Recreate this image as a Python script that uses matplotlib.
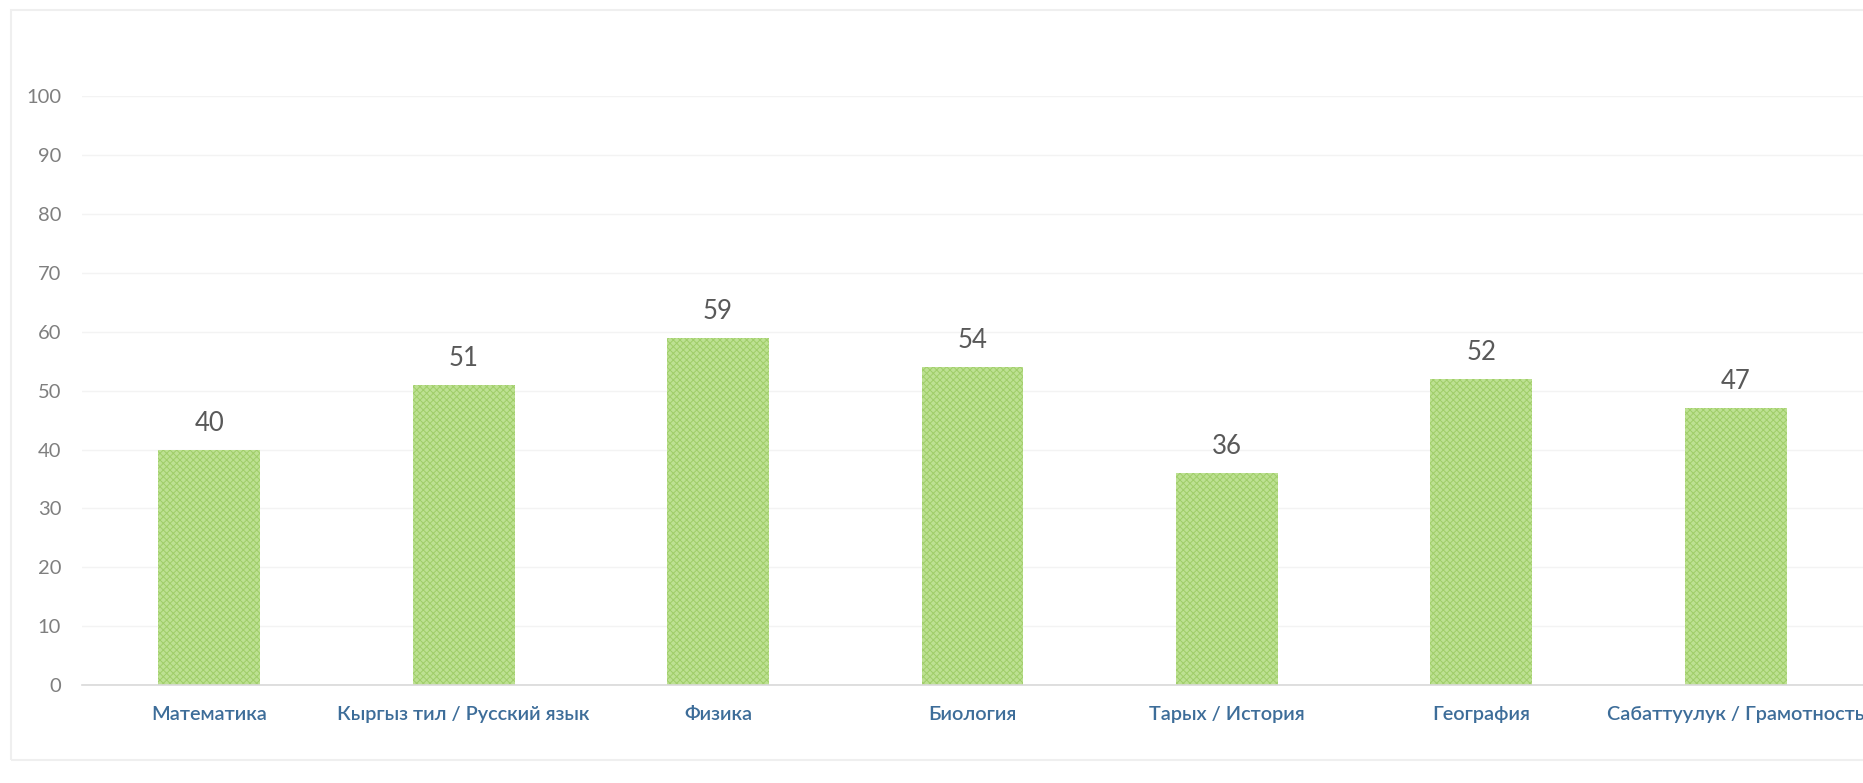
import matplotlib
matplotlib.use('Agg')
import matplotlib.pyplot as plt
import numpy as np
from matplotlib.patches import Rectangle

plt.rcParams['font.family'] = ['Lato', 'DejaVu Sans']
plt.rcParams['hatch.linewidth'] = 0.7

subjects = ['Математика', 'Кыргыз тил / Русский язык', 'Физика', 'Биология',
            'Тарых / История', 'География', 'Сабаттуулук / Грамотность']
scores = [40, 51, 59, 54, 36, 52, 47]
yticks = [0, 10, 20, 30, 40, 50, 60, 70, 80, 90, 100]

fig = plt.figure(figsize=(18.63, 7.83), dpi=100)
ax = fig.add_axes([0.044, 0.125, 0.956, 0.752])

# faint outer frame from the scanned page
fig.patches.append(Rectangle((0.006, 0.03), 1.2, 0.957, transform=fig.transFigure,
                             fill=False, edgecolor='#efefef', linewidth=1.5))

ind = np.arange(len(subjects))
bars = ax.bar(ind, scores, width=0.4, color='#bde192', edgecolor='#9fcd68',
              hatch='xxxxx', linewidth=0, zorder=2)

for x, v in zip(ind, scores):
    ax.annotate(str(v), (x, v), xytext=(0, 10), textcoords='offset points',
                ha='center', va='bottom', fontsize=18.5, color='#595959')

ax.set_xlim(-0.5, len(subjects) - 0.5)
ax.set_ylim(0, 100)
ax.set_yticks(yticks)
ax.set_xticks(ind)
ax.set_xticklabels(subjects, fontsize=14.3, color='#3d6d99', fontweight='semibold')
ax.tick_params(axis='y', length=0, pad=15, labelsize=14.5, labelcolor='#7f7f7f')
ax.tick_params(axis='x', length=0, pad=15)

ax.grid(axis='y', color='#f3f3f3', linewidth=1, zorder=0)
for s in ['top', 'right', 'left']:
    ax.spines[s].set_visible(False)
ax.spines['bottom'].set_color('#d9d9d9')
ax.spines['bottom'].set_linewidth(1.2)

plt.savefig('out.png', dpi=100)
